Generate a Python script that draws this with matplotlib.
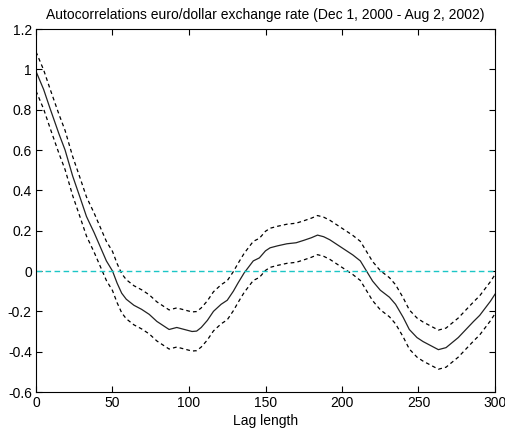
import matplotlib
matplotlib.use("Agg")
import matplotlib.pyplot as plt
import numpy as np

# lag lengths and sample autocorrelations
lags = [0, 5, 9, 15, 19, 24, 29, 33, 38, 42, 46, 50, 53, 56, 59, 64, 69, 74, 79,
        83, 87, 92, 97, 102, 105, 108, 112, 116, 121, 125, 129, 132, 136, 139, 142,
        146, 150, 153, 158, 164, 170, 175, 180, 184, 188, 192, 196, 201, 207, 212,
        216, 220, 225, 231, 235, 240, 244, 249, 253, 258, 263, 268, 272, 276,
        281, 286, 290, 293, 297, 300]
acf = [0.99, 0.90, 0.81, 0.68, 0.60, 0.47, 0.36, 0.27, 0.19, 0.12, 0.05, 0.0,
       -0.06, -0.11, -0.14, -0.17, -0.19, -0.215, -0.25, -0.27, -0.29, -0.28,
       -0.29, -0.30, -0.298, -0.28, -0.245, -0.20, -0.165, -0.145, -0.10, -0.06,
       -0.01, 0.02, 0.05, 0.065, 0.10, 0.115, 0.125, 0.135, 0.14, 0.152, 0.165,
       0.178, 0.17, 0.155, 0.135, 0.11, 0.08, 0.05, 0.0, -0.05, -0.095, -0.13,
       -0.165, -0.23, -0.29, -0.33, -0.35, -0.37, -0.39, -0.38, -0.355,
       -0.33, -0.29, -0.25, -0.22, -0.19, -0.15, -0.115]
band = 0.097  # half width of the dashed confidence band

acf = np.array(acf)

plt.rcParams["font.family"] = ["Liberation Sans", "DejaVu Sans"]
plt.rcParams["font.size"] = 10

fig = plt.figure(figsize=(5.06, 4.30), dpi=100)
ax = fig.add_axes([36 / 506, 1 - 392 / 430, 459 / 506, 363 / 430])

ax.plot(lags, acf, color="#222222", lw=0.9)
ax.plot(lags, acf + band, color="black", lw=0.9, dashes=(3, 2.5))
ax.plot(lags, acf - band, color="black", lw=0.9, dashes=(3, 2.5))
ax.axhline(0, color="#1cc6c6", lw=1.0, dashes=(4, 2.5))

ax.set_xlim(0, 300)
ax.set_ylim(-0.6, 1.2)
ax.set_xticks(np.arange(0, 301, 50))
ax.set_yticks(np.round(np.arange(-0.6, 1.21, 0.2), 1))
ax.set_yticklabels(["-0.6", "-0.4", "-0.2", "0", "0.2", "0.4", "0.6", "0.8", "1", "1.2"])
ax.tick_params(direction="in", top=True, right=True, length=4, width=0.8, pad=3)
for s in ax.spines.values():
    s.set_linewidth(0.8)

ax.set_title("Autocorrelations euro/dollar exchange rate (Dec 1, 2000 - Aug 2, 2002)",
             fontsize=10, pad=7)
ax.set_xlabel("Lag length", labelpad=3)

fig.savefig("out.png", dpi=100)
